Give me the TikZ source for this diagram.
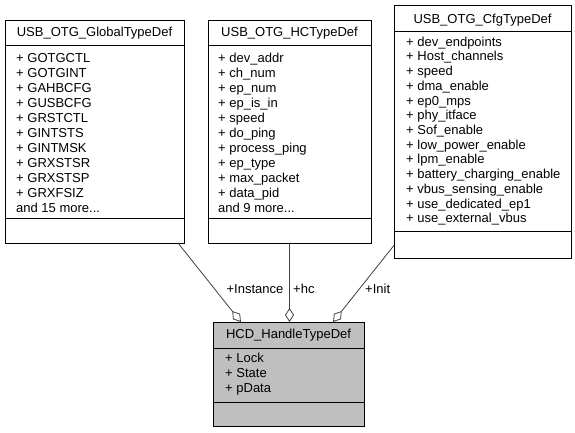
\documentclass[tikz,border=0pt]{standalone}
\usepackage{fontspec}
\setmainfont{Liberation Sans}
\usetikzlibrary{positioning, arrows.meta, calc}
\definecolor{grisclasse}{RGB}{191, 191, 191}
\definecolor{grisarete}{RGB}{64, 64, 64}

\begin{document}
\begin{tikzpicture}[x=1pt, y=-1pt, font=\fontsize{13}{15}\selectfont,
    classbox/.style={draw=black, line width=0.9pt, fill=white, anchor=north west, inner sep=0pt, outer sep=0pt},
    classline/.style={draw=black, line width=0.9pt},
    classname/.style={anchor=base, inner sep=0pt},
    member/.style={anchor=base west, inner sep=0pt},
    rolename/.style={anchor=base west, inner sep=0pt},
    aggreg/.style={draw=grisarete, line width=0.8pt, -{Diamond[open, length=14pt, width=9pt]}}]
    \useasboundingbox (0,0) rectangle (575,433);
    % USB_OTG_GlobalTypeDef
    \node[classbox, minimum width=179, minimum height=223] (global) at (5,20) {};
    \draw[classline] (5,45) -- (184,45);
    \draw[classline] (5,218) -- (184,218);
    \node[classname] (globaltitle) at (94.5,37) {USB\_OTG\_GlobalTypeDef};
    \foreach \m [count=\i from 0] in {GOTGCTL, GOTGINT, GAHBCFG, GUSBCFG, GRSTCTL, GINTSTS, GINTMSK, GRXSTSR, GRXSTSP, GRXFSIZ}
      \node[member] (globalm\i) at (16, 62.5+15*\i) {+ \m};
    \node[member] (globalmore) at (16,212.5) {and 15 more...};
    % USB_OTG_HCTypeDef
    \node[classbox, minimum width=163, minimum height=223] (hc) at (208,20) {};
    \draw[classline] (208,45) -- (371,45);
    \draw[classline] (208,218) -- (371,218);
    \node[classname] (hctitle) at (289.5,37) {USB\_OTG\_HCTypeDef};
    \foreach \m [count=\i from 0] in {dev\_addr, ch\_num, ep\_num, ep\_is\_in, speed, do\_ping, process\_ping, ep\_type, max\_packet, data\_pid}
      \node[member] (hcm\i) at (218, 62.5+15*\i) {+ \m};
    \node[member] (hcmore) at (218,212.5) {and 9 more...};
    % USB_OTG_CfgTypeDef
    \node[classbox, minimum width=177, minimum height=253] (cfg) at (394,5) {};
    \draw[classline] (394,31) -- (571,31);
    \draw[classline] (394,231) -- (571,231);
    \node[classname] (cfgtitle) at (482.5,23.3) {USB\_OTG\_CfgTypeDef};
    \foreach \m [count=\i from 0] in {dev\_endpoints, Host\_channels, speed, dma\_enable, ep0\_mps, phy\_itface, Sof\_enable, low\_power\_enable, lpm\_enable, battery\_charging\_enable, vbus\_sensing\_enable, use\_dedicated\_ep1, use\_external\_vbus}
      \node[member] (cfgm\i) at (406, 46.3+14.7*\i) {+ \m};
    % HCD_HandleTypeDef
    \node[classbox, fill=grisclasse, minimum width=151, minimum height=104] (handle) at (213,322) {};
    \draw[classline] (213,348) -- (364,348);
    \draw[classline] (213,402) -- (364,402);
    \node[classname] (handletitle) at (288.5,338.5) {HCD\_HandleTypeDef};
    \foreach \m [count=\i from 0] in {Lock, State, pData}
      \node[member] (handlem\i) at (225, 362.7+15*\i) {+ \m};
    % aggregations
    \draw[aggreg] ($(global.south east)+(-6,0)$) -- ($(handle.north west)!0.185!(handle.north east)$);
    \draw[aggreg] (hc.south) -- (hc.south |- handle.north);
    \draw[aggreg] ($(cfg.north west)!0.95!(cfg.south west)$) -- ($(handle.north west)!0.795!(handle.north east)$);
    \node[rolename, anchor=base east] (instancerole) at (283.5,293.3) {+Instance};
    \node[rolename] (hcrole) at (293,293.3) {+hc};
    \node[rolename] (initrole) at (365,293.3) {+Init};
\end{tikzpicture}
\end{document}
